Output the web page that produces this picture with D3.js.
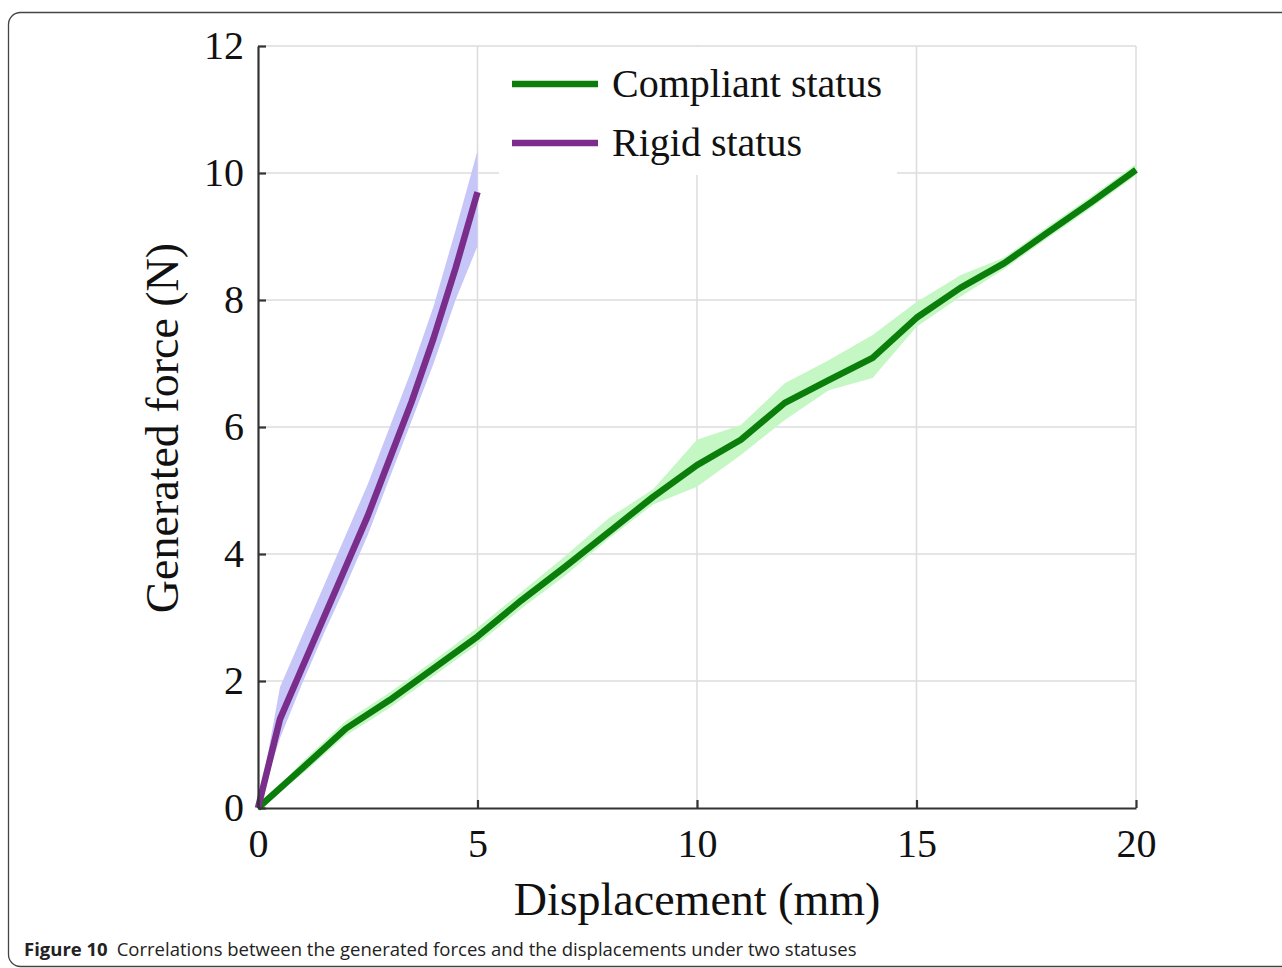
<!DOCTYPE html>
<html>
<head>
<meta charset="utf-8">
<script src="https://cdn.jsdelivr.net/npm/d3@7"></script>
<style>
  body { margin: 0; background: #fff; }
  svg { display: block; }
</style>
</head>
<body>
<svg id="chart" width="1282" height="968"></svg>
<script>
// compliant status, 0..20 mm
var compX = [0, 1, 2, 3, 4, 5, 6, 7, 8, 9, 10, 11, 12, 13, 14, 15, 16, 17, 18, 19, 20];
var compY = [0, 0.62, 1.25, 1.7, 2.2, 2.7, 3.27, 3.8, 4.35, 4.9, 5.4, 5.8, 6.38, 6.74, 7.09, 7.72, 8.19, 8.58, 9.07, 9.55, 10.05];
var compHi = [0, 0.72, 1.37, 1.82, 2.32, 2.84, 3.4, 3.97, 4.57, 5.02, 5.8, 6.03, 6.69, 7.05, 7.45, 7.97, 8.39, 8.67, 9.16, 9.64, 10.14];
var compLo = [0, 0.53, 1.14, 1.58, 2.08, 2.58, 3.14, 3.66, 4.25, 4.78, 5.06, 5.56, 6.11, 6.58, 6.77, 7.58, 8.05, 8.49, 8.98, 9.46, 9.96];

// rigid status, 0..5 mm
var rigX = [0, 0.5, 1, 1.5, 2, 2.5, 3, 3.5, 4, 4.5, 5];
var rigY = [0, 1.4, 2.2, 3.0, 3.8, 4.6, 5.5, 6.4, 7.4, 8.5, 9.7];
var rigHi = [0, 1.9, 2.7, 3.5, 4.3, 5.1, 6.0, 6.9, 7.9, 9.1, 10.35];
var rigLo = [0, 1.1, 1.95, 2.75, 3.5, 4.3, 5.2, 6.1, 7.0, 8.0, 8.85];

var xTicks = [0, 5, 10, 15, 20];
var yTicks = [0, 2, 4, 6, 8, 10, 12];

var legendNames = ["Compliant status", "Rigid status"];
var lineColors = ["#0b7d0b", "#7b2d8c"];
var bandColors = ["#c4f7c4", "#c6c6f8"];

var svg = d3.select("#chart");

// figure frame
svg.append("rect")
    .attr("x", 8.5).attr("y", 12.5)
    .attr("width", 1300).attr("height", 954)
    .attr("rx", 12).attr("ry", 12)
    .attr("fill", "none")
    .attr("stroke", "#444").attr("stroke-width", 1.3);

var pLeft = 258, pRight = 1136, pTop = 46, pBottom = 808;

var x = d3.scaleLinear().domain([0, 20]).range([pLeft, pRight]);
var y = d3.scaleLinear().domain([0, 12]).range([pBottom, pTop]);

var grid = svg.append("g").attr("class", "grid");
grid.selectAll("line.gx").data(xTicks.slice(1))
    .enter().append("line")
    .attr("x1", function (d) { return x(d); }).attr("x2", function (d) { return x(d); })
    .attr("y1", pTop).attr("y2", pBottom)
    .style("stroke", "#dcdcdc").style("stroke-width", 1.5);
grid.selectAll("line.gy").data(yTicks.slice(1))
    .enter().append("line")
    .attr("x1", pLeft).attr("x2", pRight)
    .attr("y1", function (d) { return y(d); }).attr("y2", function (d) { return y(d); })
    .style("stroke", "#dcdcdc").style("stroke-width", 1.5);

function series(xs, ys) {
    return xs.map(function (v, i) { return [v, ys[i]]; });
}
function bandData(xs, lo, hi) {
    return xs.map(function (v, i) { return { x: v, lo: lo[i], hi: hi[i] }; });
}

var area = d3.area()
    .x(function (d) { return x(d.x); })
    .y0(function (d) { return y(d.lo); })
    .y1(function (d) { return y(d.hi); });

var line = d3.line()
    .x(function (d) { return x(d[0]); })
    .y(function (d) { return y(d[1]); });

var plot = svg.append("g");

plot.append("path").datum(bandData(compX, compLo, compHi))
    .attr("d", area).attr("fill", bandColors[0]);
plot.append("path").datum(bandData(rigX, rigLo, rigHi))
    .attr("d", area).attr("fill", bandColors[1]);

plot.append("path").datum(series(compX, compY))
    .attr("d", line).attr("fill", "none")
    .attr("stroke", lineColors[0]).attr("stroke-width", 6.5)
    .attr("stroke-linejoin", "round");
plot.append("path").datum(series(rigX, rigY))
    .attr("d", line).attr("fill", "none")
    .attr("stroke", lineColors[1]).attr("stroke-width", 6.5)
    .attr("stroke-linejoin", "round");

// legend box (covers grid)
var legend = svg.append("g");
legend.append("rect")
    .attr("x", 499).attr("y", 47).attr("width", 398).attr("height", 128)
    .attr("fill", "#fff");
legend.selectAll("line").data(legendNames)
    .enter().append("line")
    .attr("x1", 512).attr("x2", 598)
    .attr("y1", function (d, i) { return 84 + i * 59; })
    .attr("y2", function (d, i) { return 84 + i * 59; })
    .attr("stroke", function (d, i) { return lineColors[i]; })
    .attr("stroke-width", 6.5);
legend.selectAll("text").data(legendNames)
    .enter().append("text")
    .attr("x", 612)
    .attr("y", function (d, i) { return 97 + i * 59; })
    .attr("font-family", "Liberation Serif, Times New Roman, serif")
    .attr("font-size", 40)
    .attr("fill", "#111")
    .text(function (d) { return d; });

// axes
var xAxis = svg.append("g")
    .attr("transform", "translate(0," + pBottom + ")")
    .call(d3.axisBottom(x).tickValues(xTicks).tickSizeInner(-8).tickSizeOuter(0).tickPadding(21));
var yAxis = svg.append("g")
    .attr("transform", "translate(" + pLeft + ",0)")
    .call(d3.axisLeft(y).tickValues(yTicks).tickSizeInner(-8).tickSizeOuter(0).tickPadding(14));

[xAxis, yAxis].forEach(function (ax) {
    ax.select(".domain").attr("stroke", "#333").attr("stroke-width", 2.2);
    ax.selectAll(".tick line").attr("stroke", "#333").attr("stroke-width", 2.2);
    ax.selectAll(".tick text")
        .attr("font-family", "Liberation Serif, Times New Roman, serif")
        .attr("font-size", 40)
        .attr("fill", "#111");
});
xAxis.selectAll(".tick text").attr("dy", "0.71em");

svg.append("text")
    .attr("x", 697).attr("y", 915)
    .attr("text-anchor", "middle")
    .attr("font-family", "Liberation Serif, Times New Roman, serif")
    .attr("font-size", 46)
    .attr("fill", "#111")
    .text("Displacement (mm)");

svg.append("text")
    .attr("transform", "translate(178,428) rotate(-90)")
    .attr("text-anchor", "middle")
    .attr("font-family", "Liberation Serif, Times New Roman, serif")
    .attr("font-size", 46)
    .attr("fill", "#111")
    .text("Generated force (N)");

// caption
var cap = svg.append("text")
    .attr("x", 24).attr("y", 956)
    .attr("font-family", "Open Sans, Noto Sans, sans-serif")
    .attr("font-size", 18.5)
    .attr("fill", "#222");
cap.append("tspan").attr("font-weight", "bold").text("Figure 10");
cap.append("tspan").attr("dx", 9).text("Correlations between the generated forces and the displacements under two statuses");
</script>
</body>
</html>
